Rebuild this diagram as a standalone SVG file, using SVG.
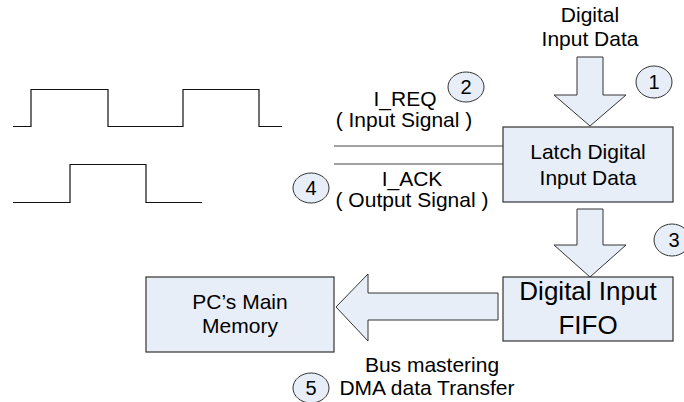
<svg xmlns="http://www.w3.org/2000/svg" width="684" height="402" viewBox="0 0 684 402">
<style>
  .box { fill: #e8eef8; stroke: #333; stroke-width: 1.2; }
  .arrow { fill: #e8eef8; stroke: #333; stroke-width: 1; }
  .circ { fill: #e8eef8; stroke: #333; stroke-width: 1; }
  .t { font-family: "Liberation Sans", Arial, sans-serif; font-size: 21px; fill: #000; text-anchor: middle; }
  .num { font-size: 20px; }
  .big { font-size: 26px; }
  .wave { fill: none; stroke: #111; stroke-width: 1.2; }
  .sig { fill: none; stroke: #444; stroke-width: 1.2; }
</style>
<rect width="684" height="402" fill="#fff"/>

<g id="waveforms">
  <polyline class="wave" points="13,126.5 31,126.5 31,89.5 108,89.5 108,126.5 183,126.5 183,89.5 259,89.5 259,126.5 282,126.5"/>
  <polyline class="wave" points="13,202.5 70,202.5 70,164.5 146,164.5 146,202.5 202,202.5"/>
</g>

<g id="connectors">
  <line class="sig" x1="334" y1="146" x2="503" y2="146"/>
  <line class="sig" x1="334" y1="164" x2="503" y2="164"/>
  <polygon id="arrow1" class="arrow" points="577,57 603,57 603,95 626,95 590,126 554,95 577,95"/>
  <polygon id="arrow3" class="arrow" points="577,209 603,209 603,245 626,245 590,277 554,245 577,245"/>
  <polygon id="arrow5" class="arrow" points="498,293 498,320 368,320 368,341 336,307 368,274 368,293"/>
</g>

<g id="input-data-label">
  <text class="t" x="590" y="22">Digital</text>
  <text class="t" x="590" y="46">Input Data</text>
</g>

<g id="latch">
  <rect class="box" x="503" y="127" width="170" height="75"/>
  <text class="t" x="588" y="159">Latch Digital</text>
  <text class="t" x="588" y="185">Input Data</text>
</g>

<g id="fifo">
  <rect class="box" x="503" y="277" width="170" height="64"/>
  <text class="t big" x="588" y="300">Digital Input</text>
  <text class="t big" x="588" y="334">FIFO</text>
</g>

<g id="memory">
  <rect class="box" x="146" y="277" width="188" height="75"/>
  <text class="t" x="240" y="309">PC’s Main</text>
  <text class="t" x="240" y="333">Memory</text>
</g>

<g id="ireq-label">
  <text class="t" x="405" y="106">I_REQ</text>
  <text class="t" x="404" y="127">( Input Signal )</text>
</g>

<g id="iack-label">
  <text class="t" x="412" y="186">I_ACK</text>
  <text class="t" x="412" y="207">( Output Signal )</text>
</g>

<g id="dma-label">
  <text class="t" x="432" y="372">Bus mastering</text>
  <text class="t" x="427" y="395">DMA data Transfer</text>
</g>

<g id="step1"><ellipse class="circ" cx="654" cy="82" rx="18" ry="16"/><text class="t num" x="654" y="89">1</text></g>
<g id="step2"><ellipse class="circ" cx="466" cy="87" rx="18" ry="15"/><text class="t num" x="466" y="94">2</text></g>
<g id="step3"><ellipse class="circ" cx="672" cy="240" rx="18" ry="16"/><text class="t num" x="674" y="247">3</text></g>
<g id="step4"><ellipse class="circ" cx="311" cy="188" rx="18" ry="15"/><text class="t num" x="311" y="195">4</text></g>
<g id="step5"><ellipse class="circ" cx="311" cy="388" rx="18" ry="15"/><text class="t num" x="311" y="395">5</text></g>
</svg>
